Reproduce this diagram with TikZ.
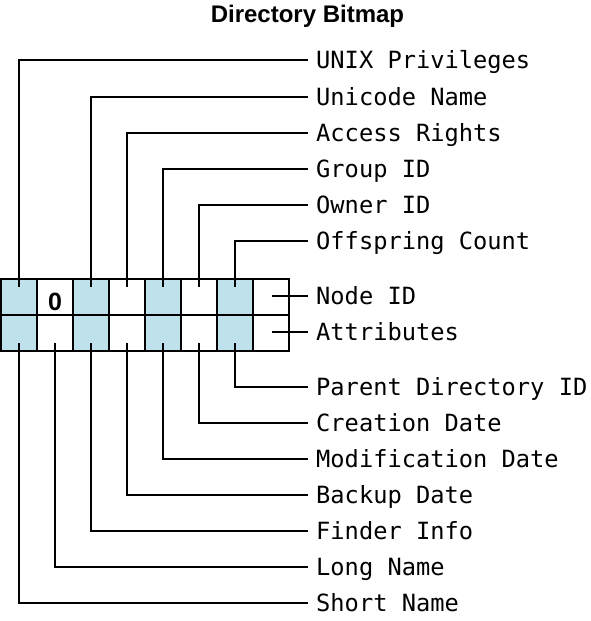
\documentclass[tikz,border=0pt]{standalone}
\usepackage{fontspec}
\setmainfont{Liberation Sans}
\setmonofont{DejaVu Sans Mono}
\definecolor{bitblue}{RGB}{190,225,236}
\tikzset{
  cell/.style={draw, line width=2pt, minimum width=36pt, minimum height=36pt, inner sep=0pt, outer sep=0pt},
  bitcell/.style={cell, fill=bitblue},
  field/.style={anchor=west, inner xsep=8pt, inner ysep=0pt, text height=17pt, text depth=0pt, font=\ttfamily\fontsize{23.7}{28}\selectfont},
  leader/.style={line width=2pt},
}
\begin{document}
\begin{tikzpicture}[x=1pt, y=-1pt]
  \useasboundingbox (0,0) rectangle (591,621);
  % Title
  \node[font=\bfseries\fontsize{24}{28}\selectfont, anchor=base] (title) at (307.5,22) {Directory Bitmap};

  % Bitmap cells
  \foreach \i in {0,2,4,6} {
    \node[bitcell] (t\i) at ({19+36*\i},297) {};
    \node[bitcell] (b\i) at ({19+36*\i},333) {};
  }
  \foreach \i in {1,3,5,7} {
    \node[cell] (t\i) at ({19+36*\i},297) {};
    \node[cell] (b\i) at ({19+36*\i},333) {};
  }
  \node[font=\bfseries\fontsize{25}{28}\selectfont] (zero) at ([yshift=-5pt]t1.center) {0};

  % Field names
  \node[field] (unix) at (308,60) {UNIX Privileges};
  \node[field] (uniname) at (308,97) {Unicode Name};
  \node[field] (access) at (308,133) {Access Rights};
  \node[field] (group) at (308,169) {Group ID};
  \node[field] (owner) at (308,205) {Owner ID};
  \node[field] (offspring) at (308,241) {Offspring Count};
  \node[field] (nodeid) at (308,296) {Node ID};
  \node[field] (attrib) at (308,332) {Attributes};
  \node[field] (parent) at (308,387) {Parent Directory ID};
  \node[field] (created) at (308,423) {Creation Date};
  \node[field] (modified) at (308,459) {Modification Date};
  \node[field] (backup) at (308,495) {Backup Date};
  \node[field] (finder) at (308,531) {Finder Info};
  \node[field] (longname) at (308,567) {Long Name};
  \node[field] (shortname) at (308,603) {Short Name};

  % Leaders above
  \draw[leader] ([yshift=-8pt]t0.north) |- (unix.west);
  \draw[leader] ([yshift=-8pt]t2.north) |- (uniname.west);
  \draw[leader] ([yshift=-8pt]t3.north) |- (access.west);
  \draw[leader] ([yshift=-8pt]t4.north) |- (group.west);
  \draw[leader] ([yshift=-8pt]t5.north) |- (owner.west);
  \draw[leader] ([yshift=-8pt]t6.north) |- (offspring.west);

  % Leaders at the side
  \draw[leader] ([xshift=1pt]t7.center |- nodeid.west) -- (nodeid.west);
  \draw[leader] ([xshift=1pt]b7.center |- attrib.west) -- (attrib.west);

  % Leaders below
  \draw[leader] ([yshift=8pt]b6.south) |- (parent.west);
  \draw[leader] ([yshift=8pt]b5.south) |- (created.west);
  \draw[leader] ([yshift=8pt]b4.south) |- (modified.west);
  \draw[leader] ([yshift=8pt]b3.south) |- (backup.west);
  \draw[leader] ([yshift=8pt]b2.south) |- (finder.west);
  \draw[leader] ([yshift=8pt]b1.south) |- (longname.west);
  \draw[leader] ([yshift=8pt]b0.south) |- (shortname.west);
\end{tikzpicture}
\end{document}
